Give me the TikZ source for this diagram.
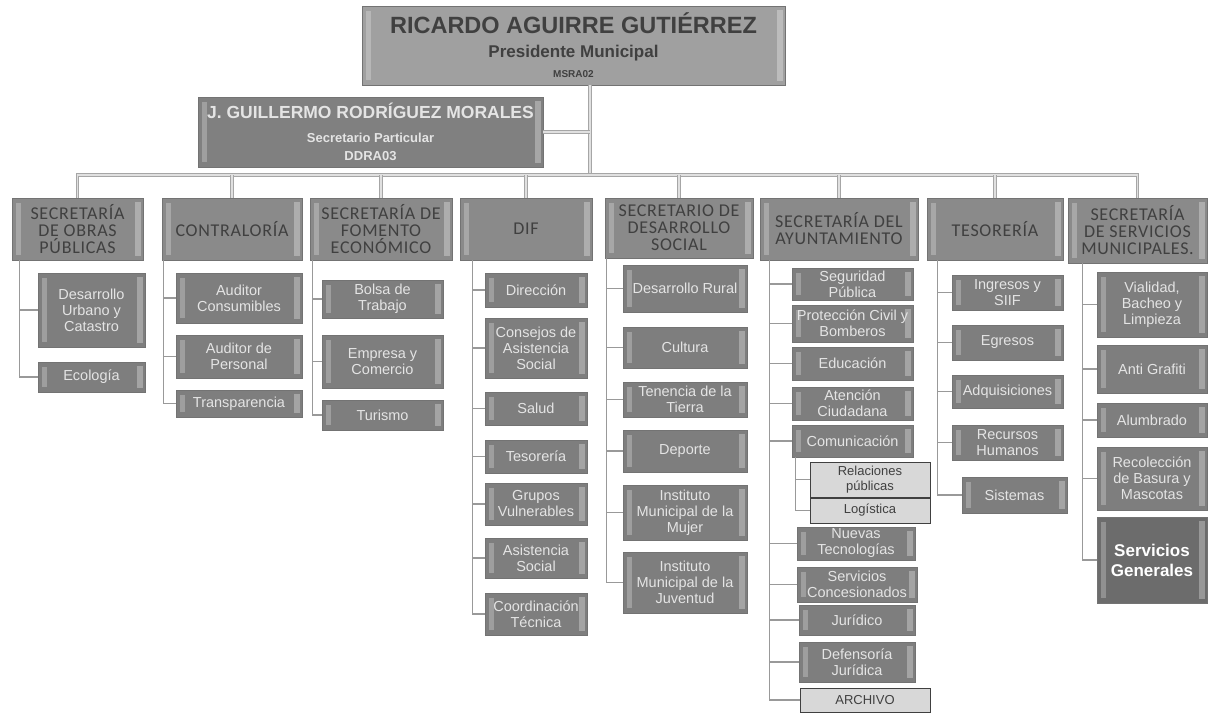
\documentclass[tikz,border=0pt]{standalone}
\usepackage{fontspec}
\setmainfont{Liberation Sans}
\newfontfamily\encab[LetterSpace=4]{Carlito}
\usepackage{tikz}
\usetikzlibrary{positioning, calc}
\definecolor{grisjefe}{RGB}{160,160,160}
\definecolor{grissec}{RGB}{128,128,128}
\definecolor{grisdepto}{RGB}{138,138,138}
\definecolor{grisarea}{RGB}{126,126,126}
\definecolor{grisfuerte}{RGB}{108,108,108}
\definecolor{grisclaro}{RGB}{216,216,216}
\definecolor{textoosc}{RGB}{64,64,64}
\definecolor{textoclaro}{RGB}{228,228,228}
\tikzset{
  caja/.style={draw=black!55, line width=.6pt, align=center, inner sep=1pt,
               path picture={
                 \fill[white, opacity=.25] ([xshift=4pt,yshift=-5pt]path picture bounding box.north west)
                   rectangle ([xshift=9pt,yshift=5pt]path picture bounding box.south west);
                 \fill[white, opacity=.3] ([xshift=-8pt,yshift=-4pt]path picture bounding box.north east)
                   rectangle ([xshift=-2pt,yshift=4pt]path picture bounding box.south east);}},
  jefe/.style={caja, fill=grisjefe, text=textoosc, font=\bfseries\fontsize{12}{22}\selectfont},
  secp/.style={caja, fill=grissec, text=textoclaro, font=\bfseries\fontsize{12}{18}\selectfont},
  depto/.style={caja, fill=grisdepto, text=textoosc, font=\encab\fontsize{18}{17}\selectfont},
  area/.style={caja, fill=grisarea, text=textoclaro, font=\fontsize{14.5}{16}\selectfont},
  aux/.style={draw=black!75, line width=1pt, fill=grisclaro, text=black!75, align=center,
              inner sep=1pt, font=\fontsize{13}{15}\selectfont},
  troncal/.style={draw=black!35, line width=1pt, double=black!12, double distance=1.6pt},
  rama/.style={draw=black!40, line width=1.3pt},
}
% caja por esquinas: estilo, nombre, x1, y1, x2, y2, texto
\newcommand{\unidad}[7]{\node[#1, minimum width={#5-#3}, minimum height={#6-#4}] (#2) at ({(#3+#5)/2},{(#4+#6)/2}) {#7};}

\begin{document}
\begin{tikzpicture}[x=1pt, y=-1pt]
\useasboundingbox (0,0) rectangle (1210,728);

% presidencia
\unidad{jefe}{pres}{362}{6}{785}{85}{{\fontsize{23.5}{25}\selectfont RICARDO AGUIRRE GUTIÉRREZ}\\[2pt]{\fontsize{17}{20}\selectfont Presidente Municipal}\\[-2pt]{\fontsize{10}{12}\selectfont MSRA02}}
\unidad{secp}{part}{198}{97}{543}{167}{{\fontsize{17.5}{20}\selectfont J. GUILLERMO RODRÍGUEZ MORALES}\\[6pt]{\fontsize{13}{16}\selectfont Secretario Particular}\\{\fontsize{13}{16}\selectfont DDRA03}}
\coordinate (bar) at (590,175);

% secretarias
\unidad{depto}{h1}{12}{198}{143}{260}{SECRETARÍA\\DE OBRAS\\PÚBLICAS}
\unidad{depto}{h2}{162}{198}{302}{260}{CONTRALORÍA}
\unidad{depto}{h3}{310}{198}{452}{260}{SECRETARÍA DE\\FOMENTO\\ECONÓMICO}
\unidad{depto}{h4}{460}{198}{592}{260}{DIF}
\unidad{depto}{h5}{605}{198}{753}{258}{SECRETARIO DE\\DESARROLLO\\SOCIAL}
\unidad{depto}{h6}{760}{198}{918}{260}{SECRETARÍA DEL\\AYUNTAMIENTO}
\unidad{depto}{h7}{927}{198}{1063}{260}{TESORERÍA}
\unidad{depto}{h8}{1068}{198}{1207}{263}{SECRETARÍA\\DE SERVICIOS\\MUNICIPALES.}

% obras publicas
\unidad{area}{c11}{38}{273}{145}{347}{Desarrollo\\Urbano y\\Catastro}
\unidad{area}{c12}{38}{362}{145}{392}{Ecología}
% contraloria
\unidad{area}{c21}{176}{273}{302}{323}{Auditor\\Consumibles}
\unidad{area}{c22}{176}{335}{302}{378}{Auditor de\\Personal}
\unidad{area}{c23}{176}{390}{302}{417}{Transparencia}
% fomento economico
\unidad{area}{c31}{322}{280}{443}{318}{Bolsa de\\Trabajo}
\unidad{area}{c32}{322}{335}{443}{388}{Empresa y\\Comercio}
\unidad{area}{c33}{322}{400}{443}{430}{Turismo}
% dif
\unidad{area}{c41}{485}{273}{587}{307}{Dirección}
\unidad{area}{c42}{485}{318}{587}{378}{Consejos de\\Asistencia\\Social}
\unidad{area}{c43}{485}{392}{587}{425}{Salud}
\unidad{area}{c44}{485}{440}{587}{473}{Tesorería}
\unidad{area}{c45}{485}{483}{587}{525}{Grupos\\Vulnerables}
\unidad{area}{c46}{485}{538}{587}{578}{Asistencia\\Social}
\unidad{area}{c47}{485}{593}{587}{635}{Coordinación\\Técnica}
% desarrollo social
\unidad{area}{c51}{623}{265}{747}{312}{Desarrollo Rural}
\unidad{area}{c52}{623}{327}{747}{368}{Cultura}
\unidad{area}{c53}{623}{382}{747}{417}{Tenencia de la\\Tierra}
\unidad{area}{c54}{623}{430}{747}{472}{Deporte}
\unidad{area}{c55}{623}{485}{747}{540}{Instituto\\Municipal de la\\Mujer}
\unidad{area}{c56}{623}{552}{747}{613}{Instituto\\Municipal de la\\Juventud}
% ayuntamiento
\unidad{area}{c61}{792}{268}{913}{300}{Seguridad\\Pública}
\unidad{area}{c62}{792}{305}{913}{342}{Protección Civil y\\Bomberos}
\unidad{area}{c63}{792}{347}{913}{380}{Educación}
\unidad{area}{c64}{792}{387}{913}{420}{Atención\\Ciudadana}
\unidad{area}{c65}{792}{425}{913}{457}{Comunicación}
\unidad{aux}{c651}{810}{462}{930}{497}{Relaciones\\públicas}
\unidad{aux}{c652}{810}{498}{930}{523}{Logística}
\unidad{area}{c66}{797}{527}{915}{560}{Nuevas\\Tecnologías}
\unidad{area}{c67}{797}{567}{917}{602}{Servicios\\Concesionados}
\unidad{area}{c68}{799}{605}{915}{635}{Jurídico}
\unidad{area}{c69}{799}{642}{915}{682}{Defensoría\\Jurídica}
\unidad{aux}{c60}{800}{688}{930}{712}{ARCHIVO}
% tesoreria
\unidad{area}{c71}{952}{275}{1063}{310}{Ingresos y\\SIIF}
\unidad{area}{c72}{952}{325}{1063}{360}{Egresos}
\unidad{area}{c73}{952}{375}{1063}{408}{Adquisiciones}
\unidad{area}{c74}{952}{425}{1063}{460}{Recursos\\Humanos}
\unidad{area}{c75}{962}{477}{1067}{513}{Sistemas}
% servicios municipales
\unidad{area}{c81}{1097}{272}{1207}{337}{Vialidad,\\Bacheo y\\Limpieza}
\unidad{area}{c82}{1097}{345}{1207}{393}{Anti Grafiti}
\unidad{area}{c83}{1097}{403}{1207}{437}{Alumbrado}
\unidad{area}{c84}{1097}{447}{1207}{510}{Recolección\\de Basura y\\Mascotas}
\unidad{area, fill=grisfuerte, text=white, font=\bfseries\fontsize{17}{20}\selectfont}{c85}{1097}{517}{1207}{603}{Servicios\\Generales}

% lineas de mando
\draw[troncal] (pres.south -| bar) -- (bar);
\draw[troncal] (part.east) -- (part.east -| bar);
\draw[troncal] (h1.north) |- (bar) -| (h8.north);
\foreach \h in {h2,h3,h4,h5,h6,h7}
  \draw[troncal] (\h.north) -- (\h.north |- bar);

\coordinate (s1) at ([xshift=8pt]h1.south west);
\coordinate (s2) at ([xshift=2pt]h2.south west);
\coordinate (s3) at ([xshift=3pt]h3.south west);
\coordinate (s4) at ([xshift=13pt]h4.south west);
\coordinate (s5) at ([xshift=2pt]h5.south west);
\coordinate (s6) at ([xshift=10pt]h6.south west);
\coordinate (s7) at ([xshift=11pt]h7.south west);
\coordinate (s8) at ([xshift=15pt]h8.south west);
\coordinate (s65) at ([xshift=4pt]c65.south west);

\foreach \c in {c11,c12} \draw[rama] (s1) |- (\c.west);
\foreach \c in {c21,c22,c23} \draw[rama] (s2) |- (\c.west);
\foreach \c in {c31,c32,c33} \draw[rama] (s3) |- (\c.west);
\foreach \c in {c41,c42,c43,c44,c45,c46,c47} \draw[rama] (s4) |- (\c.west);
\foreach \c in {c51,c52,c53,c54,c55,c56} \draw[rama] (s5) |- (\c.west);
\foreach \c in {c61,c62,c63,c64,c65,c66,c67,c68,c69,c60} \draw[rama] (s6) |- (\c.west);
\foreach \c in {c651,c652} \draw[rama] (s65) |- (\c.west);
\foreach \c in {c71,c72,c73,c74,c75} \draw[rama] (s7) |- (\c.west);
\foreach \c in {c81,c82,c83,c84,c85} \draw[rama] (s8) |- (\c.west);
\end{tikzpicture}
\end{document}
